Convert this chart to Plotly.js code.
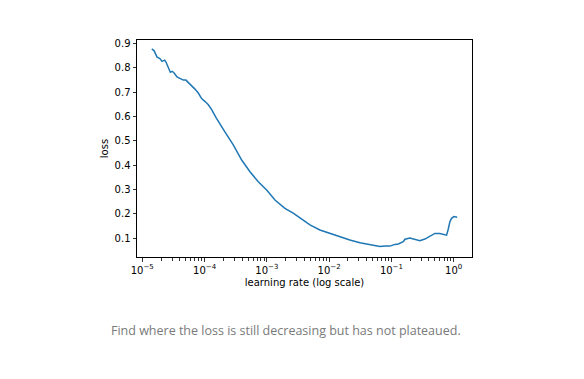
<!DOCTYPE html>
<html>
<head>
<meta charset="utf-8">
<script src="https://cdn.plot.ly/plotly-3.0.1.min.js"></script>
<style>html,body{margin:0;padding:0;background:#fff;}#chart{width:584px;height:379px;}</style>
</head>
<body>
<div id="chart"></div>
<script>
const learningRates = [1.42e-5,1.54e-5,1.73e-5,1.92e-5,2.07e-5,2.29e-5,2.40e-5,2.61e-5,2.82e-5,3.03e-5,3.27e-5,3.61e-5,4.03e-5,4.55e-5,5.02e-5,5.47e-5,6.21e-5,7.01e-5,7.93e-5,8.97e-5,1.01e-4,1.15e-4,1.30e-4,1.52e-4,2.12e-4,2.89e-4,3.94e-4,5.36e-4,7.28e-4,9.93e-4,1.35e-3,1.95e-3,2.65e-3,3.62e-3,4.92e-3,7.11e-3,1.03e-2,1.49e-2,2.15e-2,3.12e-2,4.51e-2,6.53e-2,7.87e-2,9.46e-2,0.114,0.129,0.155,0.165,0.198,0.238,0.286,0.345,0.415,0.499,0.600,0.723,0.769,0.817,0.869,0.925,1.007,1.138];
const losses = [0.877,0.870,0.843,0.837,0.826,0.831,0.823,0.799,0.781,0.785,0.777,0.762,0.755,0.749,0.749,0.740,0.726,0.712,0.696,0.673,0.662,0.648,0.628,0.596,0.537,0.483,0.421,0.373,0.332,0.298,0.257,0.223,0.203,0.178,0.155,0.134,0.120,0.104,0.093,0.082,0.075,0.066,0.068,0.068,0.075,0.077,0.086,0.096,0.101,0.095,0.090,0.097,0.107,0.120,0.120,0.116,0.113,0.137,0.168,0.182,0.189,0.186];
const xTickVals = [1e-5, 1e-4, 1e-3, 1e-2, 1e-1, 1];
const xTickText = ['10<sup>−5</sup>','10<sup>−4</sup>','10<sup>−3</sup>','10<sup>−2</sup>','10<sup>−1</sup>','10<sup>0</sup>'];
const xMinorTicks = [];
[1e-5, 1e-4, 1e-3, 1e-2, 1e-1, 1].forEach(d => { for (let m = 2; m <= 9; m++) xMinorTicks.push(d * m); });
const yTicks = [0.1,0.2,0.3,0.4,0.5,0.6,0.7,0.8,0.9];
const xTitle = 'learning rate (log scale)';
const yTitle = 'loss';
const caption = 'Find where the loss is still decreasing but has not plateaued.';

const font = {family: 'DejaVu Sans, sans-serif', size: 10, color: '#000'};
const xRange = [-5.085, 0.294];
const trace = {x: learningRates, y: losses, type: 'scatter', mode: 'lines',
  line: {color: '#1f77b4', width: 1.5}, hoverinfo: 'skip'};
const layout = {
  width: 584, height: 379,
  margin: {l: 137, r: 112, t: 40, b: 122, pad: 0},
  paper_bgcolor: '#fff', plot_bgcolor: '#fff',
  font: font, showlegend: false,
  xaxis: {type: 'log', range: xRange, tickvals: xTickVals, ticktext: xTickText,
    showgrid: false, zeroline: false, showline: true, mirror: true, linecolor: '#000', linewidth: 1,
    ticks: 'outside', ticklen: 3.5, tickwidth: 0.8, tickcolor: '#000', tickfont: font,
    minor: {tickvals: xMinorTicks, ticks: 'outside', ticklen: 2.5, tickwidth: 0.8, tickcolor: '#000', showgrid: false},
    title: {text: xTitle, font: font, standoff: 4}},
  yaxis: {range: [0.0233, 0.9135], tickvals: yTicks, ticktext: yTicks.map(v => v.toFixed(1)),
    showgrid: false, zeroline: false, showline: true, mirror: true, linecolor: '#000', linewidth: 1,
    ticks: 'outside', ticklen: 3.5, tickwidth: 0.8, tickcolor: '#000', tickfont: font,
    title: {text: yTitle, font: font, standoff: 4}},
  annotations: [{text: caption, xref: 'paper', yref: 'paper', x: 0.4448, y: -0.341,
    xanchor: 'center', yanchor: 'middle', showarrow: false,
    font: {family: 'Open Sans, sans-serif', size: 12.5, color: '#7a7a7a'}}]
};
Plotly.newPlot('chart', [trace], layout, {displayModeBar: false, staticPlot: true});
</script>
</body>
</html>
